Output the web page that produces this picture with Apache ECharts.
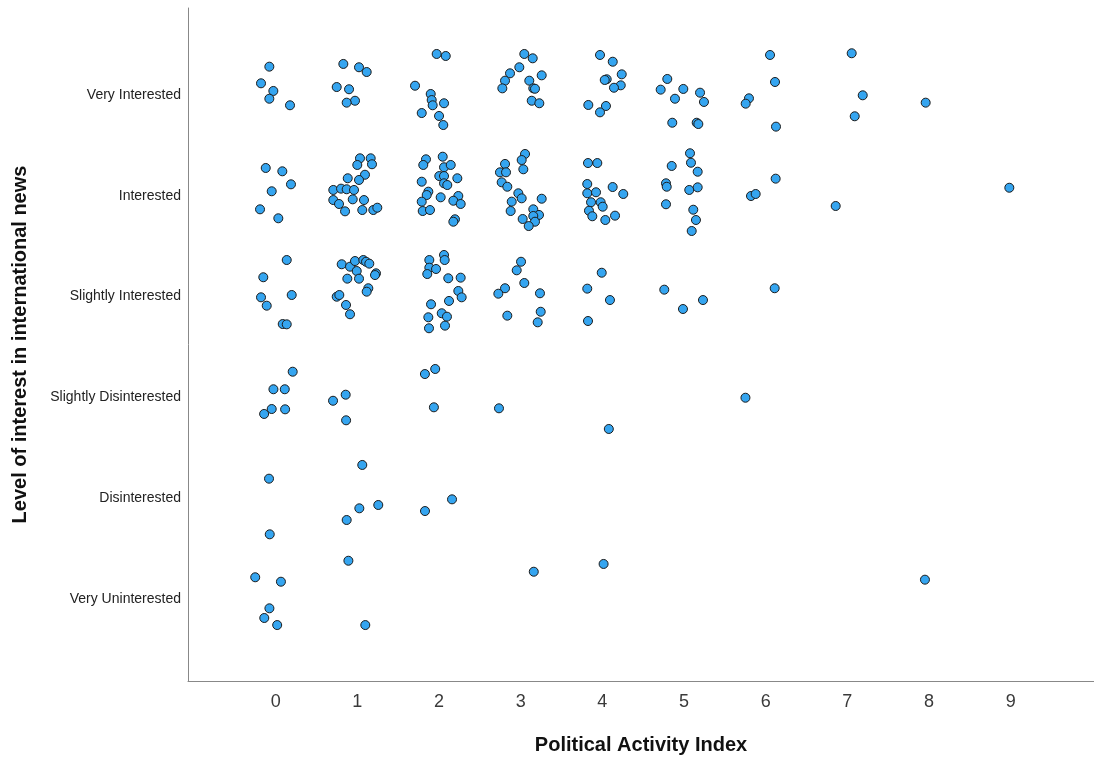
<!DOCTYPE html>
<html>
<head>
<meta charset="utf-8">
<script src="https://cdn.jsdelivr.net/npm/echarts@6/dist/echarts.min.js"></script>
<style>html,body{margin:0;padding:0;background:#fff}#c{width:1094px;height:760px}</style>
</head>
<body>
<div id="c"></div>
<script>
// Category labels for the interest levels (1 = Very Uninterested ... 6 = Very Interested)
const levelLabels = ["", "Very Uninterested", "Disinterested", "Slightly Disinterested", "Slightly Interested", "Interested", "Very Interested"];
const xTicks = [0, 1, 2, 3, 4, 5, 6, 7, 8, 9];
const yTicks = [1, 2, 3, 4, 5, 6];

// Jittered points [political activity index, interest level]
const veryInterested = [
  [-0.078,6.281],[-0.180,6.116],[-0.029,6.040],[-0.078,5.963],[0.175,5.898],
  [0.828,6.308],[1.020,6.275],[1.114,6.228],[0.747,6.079],[0.898,6.057],[0.971,5.943],[0.869,5.924],
  [1.971,6.407],[2.082,6.387],[1.706,6.092],[1.898,6.010],[1.910,5.950],[1.922,5.898],[2.061,5.918],[1.788,5.821],[2.000,5.792],[2.052,5.702],
  [3.044,6.407],[3.147,6.364],[2.983,6.275],[2.869,6.215],[3.257,6.195],[2.808,6.142],[3.105,6.142],[2.775,6.066],[3.154,6.066],[3.175,6.062],[3.135,5.943],[3.228,5.918],
  [3.971,6.397],[4.127,6.330],[4.237,6.205],[4.053,6.156],[4.029,6.149],[4.225,6.096],[4.142,6.072],[3.828,5.901],[4.044,5.891],[3.971,5.828],
  [4.795,6.159],[4.714,6.053],[4.991,6.060],[4.889,5.963],[5.196,6.023],[5.244,5.931],[4.856,5.725],[5.155,5.725],[5.175,5.712],
  [6.053,6.397],[6.114,6.129],[5.795,5.967],[5.755,5.914],[6.126,5.686],
  [7.053,6.414],[7.188,5.997],[7.090,5.789],
  [7.959,5.924]
];
const interested = [
  [-0.122,5.276],[0.081,5.243],[0.187,5.114],[-0.049,5.045],[-0.192,4.866],[0.032,4.777],
  [1.032,5.372],[1.163,5.372],[0.999,5.306],[1.179,5.313],[1.093,5.209],[0.882,5.174],[1.020,5.157],[0.705,5.058],[0.800,5.071],[0.869,5.065],[0.959,5.058],[0.943,4.965],[0.705,4.958],[0.775,4.919],[0.849,4.846],[1.081,4.958],[1.060,4.859],[1.195,4.859],[1.244,4.882],
  [1.840,5.362],[2.045,5.388],[1.807,5.306],[2.061,5.283],[2.143,5.306],[2.003,5.196],[2.061,5.196],[2.224,5.174],[1.788,5.140],[2.061,5.124],[2.101,5.107],[1.869,5.041],[1.849,5.008],[2.020,4.985],[1.788,4.942],[2.236,4.998],[2.175,4.951],[2.265,4.919],[1.800,4.849],[1.889,4.859],[2.195,4.767],[2.175,4.743],
  [3.053,5.415],[3.012,5.355],[2.808,5.316],[2.746,5.233],[2.820,5.233],[3.032,5.263],[2.767,5.134],[2.836,5.090],[2.971,5.025],[3.012,4.975],[2.890,4.942],[3.257,4.971],[2.877,4.849],[3.154,4.866],[3.224,4.810],[3.154,4.800],[3.024,4.770],[3.175,4.743],[3.098,4.700],
  [3.824,5.325],[3.938,5.325],[3.815,5.117],[3.815,5.025],[3.922,5.035],[4.126,5.087],[4.256,5.018],[3.861,4.936],[3.979,4.936],[4.004,4.892],[3.836,4.852],[3.877,4.797],[4.036,4.760],[4.155,4.803],
  [5.073,5.422],[5.085,5.328],[4.849,5.296],[5.167,5.239],[4.779,5.124],[4.788,5.090],[5.064,5.058],[5.167,5.084],[4.779,4.916],[5.113,4.862],[5.146,4.760],[5.094,4.651],
  [6.122,5.170],[5.820,4.998],[5.877,5.018],
  [6.857,4.899],
  [8.983,5.080]
];
const slightlyInterested = [
  [0.135,4.363],[-0.152,4.192],[0.196,4.016],[-0.180,3.993],[-0.110,3.910],[0.086,3.728],[0.135,3.725],
  [0.808,4.321],[0.910,4.297],[0.971,4.353],[1.073,4.363],[1.106,4.346],[1.146,4.327],[0.992,4.254],[1.228,4.231],[1.216,4.214],[0.877,4.178],[1.020,4.178],[1.134,4.083],[1.114,4.049],[0.747,3.999],[0.779,4.016],[0.861,3.917],[0.910,3.825],
  [1.881,4.363],[2.061,4.413],[2.069,4.363],[1.881,4.287],[1.963,4.274],[1.856,4.224],[2.113,4.182],[2.265,4.188],[2.236,4.056],[2.277,3.993],[2.122,3.957],[1.902,3.924],[2.033,3.835],[2.097,3.801],[1.869,3.795],[2.073,3.712],[1.877,3.686],
  [3.004,4.346],[2.951,4.261],[3.044,4.135],[2.808,4.083],[2.726,4.029],[3.236,4.033],[3.245,3.850],[2.836,3.811],[3.208,3.745],
  [3.992,4.237],[3.815,4.079],[4.093,3.966],[3.824,3.758],
  [4.758,4.069],[4.987,3.877],[5.232,3.966],
  [6.110,4.083]
];
const slightlyDisinterested = [
  [0.208,3.255],[-0.028,3.081],[0.111,3.081],[-0.049,2.885],[0.115,2.882],[-0.142,2.836],
  [0.702,2.967],[0.857,3.027],[0.862,2.773],
  [1.827,3.232],[1.953,3.282],[1.937,2.902],
  [2.734,2.892],
  [4.079,2.687],
  [5.752,2.997]
];
const disinterested = [
  [-0.082,2.194],[-0.073,1.642],
  [1.060,2.330],[1.024,1.900],[1.256,1.933],[0.869,1.784],
  [1.828,1.873],[2.159,1.989]
];
const veryUninterested = [
  [-0.251,1.216],[0.064,1.172],[-0.077,0.908],[-0.140,0.812],[0.018,0.742],
  [0.890,1.380],[1.097,0.742],
  [3.160,1.271],
  [4.015,1.348],
  [7.950,1.192]
];

const allPoints = [].concat(veryInterested, interested, slightlyInterested, slightlyDisinterested, disinterested, veryUninterested);

const chart = echarts.init(document.getElementById('c'), null, {renderer: 'canvas'});
const font = 'Liberation Sans, Arial, sans-serif';
chart.setOption({
  animation: false,
  backgroundColor: '#ffffff',
  grid: {left: 188, right: 0, top: 8, bottom: 79, containLabel: false},
  xAxis: {
    type: 'value', min: -1.074, max: 10.02,
    name: 'Political Activity Index', nameLocation: 'middle', nameGap: 54,
    nameTextStyle: {fontFamily: font, fontSize: 20, fontWeight: 'bold', color: '#111'},
    axisLine: {show: true, onZero: false, lineStyle: {color: '#888', width: 1}},
    axisTick: {show: false},
    splitLine: {show: false},
    axisLabel: {customValues: xTicks, margin: 12, fontFamily: font, fontSize: 18, color: '#3a3a3a'}
  },
  yAxis: {
    type: 'value', min: 0.187, max: 6.863,
    name: 'Level of interest in international news', nameLocation: 'middle', nameGap: 158, nameRotate: 90,
    nameTextStyle: {fontFamily: font, fontSize: 20, fontWeight: 'bold', color: '#111'},
    axisLine: {show: true, onZero: false, lineStyle: {color: '#888', width: 1}},
    axisTick: {show: false},
    splitLine: {show: false},
    axisLabel: {customValues: yTicks, margin: 7, fontFamily: font, fontSize: 14, color: '#222',
      formatter: v => levelLabels[Math.round(v)] || ''}
  },
  series: [{
    type: 'scatter',
    data: allPoints,
    symbol: 'circle',
    symbolSize: 9,
    itemStyle: {color: '#35a5f0', borderColor: '#1c1c1c', borderWidth: 1, opacity: 1}
  }]
});
</script>
</body>
</html>
